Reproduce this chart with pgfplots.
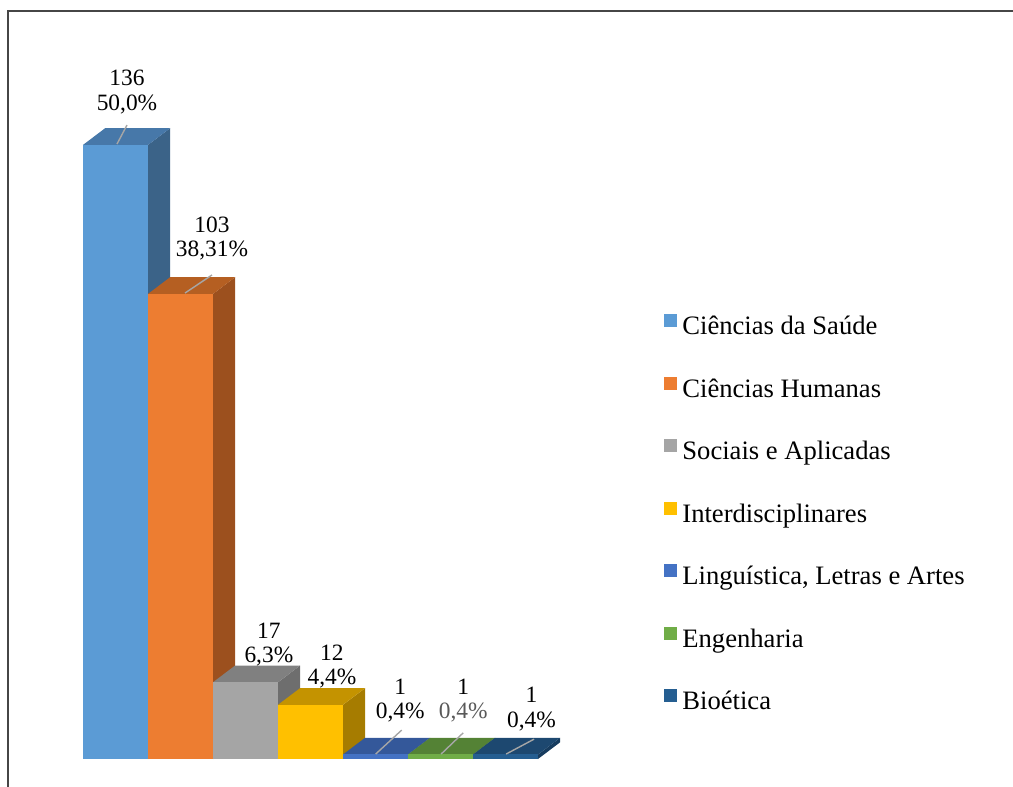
\documentclass[border=0pt]{standalone}
\usepackage{pgfplots}
\pgfplotsset{compat=1.18}
\usepackage{fontspec}
\setmainfont{Liberation Serif}
\definecolor{f0}{HTML}{5B9BD5}\definecolor{t0}{HTML}{4778A9}\definecolor{s0}{HTML}{3B6388}
\definecolor{f1}{HTML}{ED7D31}\definecolor{t1}{HTML}{B55F22}\definecolor{s1}{HTML}{9C501E}
\definecolor{f2}{HTML}{A5A5A5}\definecolor{t2}{HTML}{808080}\definecolor{s2}{HTML}{6E6E6E}
\definecolor{f3}{HTML}{FFC000}\definecolor{t3}{HTML}{C49300}\definecolor{s3}{HTML}{A67C00}
\definecolor{f4}{HTML}{4472C4}\definecolor{t4}{HTML}{34589A}\definecolor{s4}{HTML}{2D4C86}
\definecolor{f5}{HTML}{70AD47}\definecolor{t5}{HTML}{548235}\definecolor{s5}{HTML}{4A7530}
\definecolor{f6}{HTML}{255E91}\definecolor{t6}{HTML}{1D4870}\definecolor{s6}{HTML}{173C5F}
\definecolor{lead}{HTML}{A6A6A6}
\newcommand\lab{\fontsize{11.7}{12.2}\selectfont}
\begin{document}
\begin{tikzpicture}
\begin{axis}[
  scale only axis, width=506.5pt, height=393.5pt,
  xmin=-1.777, xmax=13.808, ymin=-6.2, ymax=168.1,
  axis lines=none, clip=false,
  every axis plot/.append style={mark=none},
  legend image code/.code={\fill[#1, draw=none] (0pt,0.6pt) rectangle (6.5pt,7.1pt);},
  legend cell align=left,
  legend style={draw=none, fill=none, inner sep=0pt, row sep=18.15pt,
    at={(rel axis cs:0.6555,0.601)}, anchor=north west,
    font=\fontsize{13.3}{14}\selectfont,
    nodes={inner xsep=2.5pt, inner ysep=0pt, text height=9pt, text depth=3pt}},
]
\addlegendimage{fill=f0}\addlegendentry{Ciências da Saúde}
\addlegendimage{fill=f1}\addlegendentry{Ciências Humanas}
\addlegendimage{fill=f2}\addlegendentry{Sociais e Aplicadas}
\addlegendimage{fill=f3}\addlegendentry{Interdisciplinares}
\addlegendimage{fill=f4}\addlegendentry{Linguística, Letras e Artes}
\addlegendimage{fill=f5}\addlegendentry{Engenharia}
\addlegendimage{fill=f6}\addlegendentry{Bioética}

% bar 0 : 136
\addplot[fill=s0, draw=none, forget plot] coordinates {(0.5,0) (0.84,3.7) (0.84,139.7) (0.5,136)} -- cycle;
\addplot[fill=t0, draw=none, forget plot] coordinates {(-0.5,136) (0.5,136) (0.84,139.7) (-0.16,139.7)} -- cycle;
\addplot[fill=f0, draw=none, forget plot] coordinates {(-0.5,0) (0.5,0) (0.5,136) (-0.5,136)} -- cycle;
% bar 1 : 103
\addplot[fill=s1, draw=none, forget plot] coordinates {(1.5,0) (1.84,3.7) (1.84,106.7) (1.5,103)} -- cycle;
\addplot[fill=t1, draw=none, forget plot] coordinates {(0.5,103) (1.5,103) (1.84,106.7) (0.84,106.7)} -- cycle;
\addplot[fill=f1, draw=none, forget plot] coordinates {(0.5,0) (1.5,0) (1.5,103) (0.5,103)} -- cycle;
% bar 2 : 17
\addplot[fill=s2, draw=none, forget plot] coordinates {(2.5,0) (2.84,3.7) (2.84,20.7) (2.5,17)} -- cycle;
\addplot[fill=t2, draw=none, forget plot] coordinates {(1.5,17) (2.5,17) (2.84,20.7) (1.84,20.7)} -- cycle;
\addplot[fill=f2, draw=none, forget plot] coordinates {(1.5,0) (2.5,0) (2.5,17) (1.5,17)} -- cycle;
% bar 3 : 12
\addplot[fill=s3, draw=none, forget plot] coordinates {(3.5,0) (3.84,3.7) (3.84,15.7) (3.5,12)} -- cycle;
\addplot[fill=t3, draw=none, forget plot] coordinates {(2.5,12) (3.5,12) (3.84,15.7) (2.84,15.7)} -- cycle;
\addplot[fill=f3, draw=none, forget plot] coordinates {(2.5,0) (3.5,0) (3.5,12) (2.5,12)} -- cycle;
% bar 4 : 1
\addplot[fill=s4, draw=none, forget plot] coordinates {(4.5,0) (4.84,3.7) (4.84,4.7) (4.5,1)} -- cycle;
\addplot[fill=t4, draw=none, forget plot] coordinates {(3.5,1) (4.5,1) (4.84,4.7) (3.84,4.7)} -- cycle;
\addplot[fill=f4, draw=none, forget plot] coordinates {(3.5,0) (4.5,0) (4.5,1) (3.5,1)} -- cycle;
% bar 5 : 1
\addplot[fill=s5, draw=none, forget plot] coordinates {(5.5,0) (5.84,3.7) (5.84,4.7) (5.5,1)} -- cycle;
\addplot[fill=t5, draw=none, forget plot] coordinates {(4.5,1) (5.5,1) (5.84,4.7) (4.84,4.7)} -- cycle;
\addplot[fill=f5, draw=none, forget plot] coordinates {(4.5,0) (5.5,0) (5.5,1) (4.5,1)} -- cycle;
% bar 6 : 1
\addplot[fill=s6, draw=none, forget plot] coordinates {(6.5,0) (6.84,3.7) (6.84,4.7) (6.5,1)} -- cycle;
\addplot[fill=t6, draw=none, forget plot] coordinates {(5.5,1) (6.5,1) (6.84,4.7) (5.84,4.7)} -- cycle;
\addplot[fill=f6, draw=none, forget plot] coordinates {(5.5,0) (6.5,0) (6.5,1) (5.5,1)} -- cycle;

% leader lines
\addplot[lead, line width=0.7pt, forget plot] coordinates {(0.023,136.2) (0.177,140.4)};
\addplot[lead, line width=0.7pt, forget plot] coordinates {(1.069,103.2) (1.485,107.2)};
\addplot[lead, line width=0.7pt, forget plot] coordinates {(4.003,1.1) (4.403,6.4)};
\addplot[lead, line width=0.7pt, forget plot] coordinates {(5.01,1.1) (5.35,5.8)};
\addplot[lead, line width=0.7pt, forget plot] coordinates {(6.01,1.1) (6.44,4.4)};

% data labels
\node[align=center, font=\lab, inner sep=0pt] at (axis cs:0.177,147.7) {136\\50,0\%};
\node[align=center, font=\lab, inner sep=0pt] at (axis cs:1.485,115.3) {103\\38,31\%};
\node[align=center, font=\lab, inner sep=0pt] at (axis cs:2.36,25.4) {17\\6,3\%};
\node[align=center, font=\lab, inner sep=0pt] at (axis cs:3.33,20.5) {12\\4,4\%};
\node[align=center, font=\lab, inner sep=0pt] at (axis cs:4.38,12.96) {1\\0,4\%};
\node[align=center, font=\lab, inner sep=0pt] at (axis cs:5.35,12.96) {1\\\textcolor[HTML]{595959}{0,4\%}};
\node[align=center, font=\lab, inner sep=0pt] at (axis cs:6.40,11.07) {1\\0,4\%};

% chart frame
\draw[gray!55!black, line width=0.8pt] (rel axis cs:0.0079,0) -- (rel axis cs:0.0079,0.986) -- (rel axis cs:1,0.986);
\end{axis}
\pgfresetboundingbox
\path[use as bounding box] (current axis.south west) rectangle (current axis.north east);
\end{tikzpicture}
\end{document}
